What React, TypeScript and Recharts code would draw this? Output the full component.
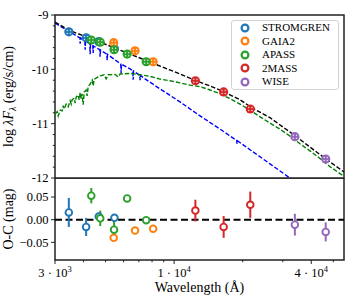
import { ComposedChart, Line, Scatter, XAxis, YAxis, ReferenceArea, ReferenceLine, ErrorBar, Legend } from 'recharts'

const SERIF = '"Liberation Serif", "DejaVu Serif", serif'

// photometry: wavelength (Å), log λFλ, O-C (mag), error (mag)
const stromWl = [3450, 4110, 4670, 5470]
const stromFlux = [-9.31, -9.42, -9.49, -9.62]
const stromOC = [0.016, -0.016, 0.007, 0.004]
const stromErr = [0.032, 0.02, 0.005, 0.005]

const gaiaWl = [5430, 6740, 8090]
const gaiaFlux = [-9.51, -9.66, -9.86]
const gaiaOC = [-0.04, -0.024, -0.02]
const gaiaErr = [0.004, 0.004, 0.004]

const apassWl = [4330, 4740, 5450, 6220, 7540]
const apassFlux = [-9.46, -9.5, -9.64, -9.72, -9.86]
const apassOC = [0.053, 0.003, -0.022, 0.047, -0.001]
const apassErr = [0.017, 0.017, 0.022, 0.004, 0.004]

const tmassWl = [12400, 16500, 21600]
const tmassFlux = [-10.21, -10.415, -10.73]
const tmassOC = [0.02, -0.016, 0.033]
const tmassErr = [0.024, 0.024, 0.029]

const wiseWl = [33900, 46300]
const wiseFlux = [-11.24, -11.65]
const wiseOC = [-0.011, -0.027]
const wiseErr = [0.024, 0.021]

// model spectra
const totalWl = [3000, 3498, 4110, 4734, 5510, 6411, 7460, 8679, 10620, 12480, 14380, 16570, 19470, 21990, 26360, 33930, 39480, 46390, 55700]
const totalFlux = [-9.13, -9.29, -9.4, -9.5, -9.61, -9.72, -9.83, -9.94, -10.085, -10.21, -10.305, -10.415, -10.56, -10.71, -10.89, -11.22, -11.43, -11.65, -11.89]

const coolWl = [3000, 3067, 3099, 3163, 3226, 3259, 3292, 3359, 3428, 3498, 3534, 3569, 3643, 3678, 3716, 3792, 3831, 3869, 3909, 3948, 3988, 4030, 4110, 4152, 4194, 4280, 4369, 4413, 4458, 4549, 4734, 4933, 5033, 5135, 5510, 5681, 5796, 6411, 7092, 7847, 8679, 9602, 10620, 11750, 13010, 14380, 15910, 17600, 19470, 21540, 23830, 26360, 29160, 32260, 35690, 39480, 43670, 48320, 55700]
const coolFlux = [-10.82, -10.78, -10.86, -10.75, -10.765, -10.67, -10.73, -10.64, -10.69, -10.58, -10.64, -10.56, -10.53, -10.62, -10.51, -10.47, -10.56, -10.43, -10.54, -10.45, -10.65, -10.42, -10.38, -10.49, -10.32, -10.27, -10.2, -10.305, -10.18, -10.16, -10.12, -10.1, -10.175, -10.1, -10.094, -10.14, -10.085, -10.075, -10.1, -10.13, -10.18, -10.21, -10.25, -10.29, -10.32, -10.38, -10.45, -10.54, -10.64, -10.75, -10.875, -10.99, -11.1, -11.23, -11.37, -11.5, -11.64, -11.79, -11.97]

const hotWl = [3000, 3498, 3855, 3869, 3883, 4055, 4070, 4085, 4265, 4280, 4295, 4395, 4411, 4427, 4717, 4734, 4751, 5065, 5083, 5101, 5510, 5832, 5853, 5874, 6411, 6585, 6609, 6633, 7066, 7092, 7118, 7460, 8679, 10620, 12610, 15910, 18820, 18890, 18960, 21540, 26360, 32260, 35690]
const hotFlux = [-9.147, -9.313, -9.42, -9.53, -9.425, -9.475, -9.64, -9.48, -9.53, -9.72, -9.535, -9.565, -9.7, -9.57, -9.64, -9.77, -9.645, -9.72, -9.83, -9.725, -9.827, -9.9, -10.07, -9.905, -9.993, -10.025, -10.19, -10.03, -10.11, -10.2, -10.115, -10.176, -10.36, -10.6, -10.82, -11.1, -11.31, -11.37, -11.315, -11.48, -11.74, -12.0, -12.125]

const xMajor = [3000, 10000, 40000]
const xMajorLabels = [['3', '3'], ['1', '4'], ['4', '4']]
const xTicks = [3000, 4000, 5000, 6000, 7000, 8000, 9000, 10000, 20000, 30000, 40000, 50000]
const topYTicks = [-12, -11.8, -11.6, -11.4, -11.2, -11, -10.8, -10.6, -10.4, -10.2, -10, -9.8, -9.6, -9.4, -9.2, -9]
const ocTicks = [-0.05, 0, 0.05]
const ocTickLabels = ['\u22120.05', '0.00', '0.05']

const X_DOMAIN = [3000, 55700]

const zip = (wl: number[], v: number[]) => wl.map((w, i) => ({ wl: w, v: v[i] }))

const surveys = [
  { name: 'STROMGREN', color: '#1f77b4', wl: stromWl, flux: stromFlux, oc: stromOC, err: stromErr },
  { name: 'GAIA2', color: '#ff7f0e', wl: gaiaWl, flux: gaiaFlux, oc: gaiaOC, err: gaiaErr },
  { name: 'APASS', color: '#2ca02c', wl: apassWl, flux: apassFlux, oc: apassOC, err: apassErr },
  { name: '2MASS', color: '#d62728', wl: tmassWl, flux: tmassFlux, oc: tmassOC, err: tmassErr },
  { name: 'WISE', color: '#9467bd', wl: wiseWl, flux: wiseFlux, oc: wiseOC, err: wiseErr },
].map((s) => ({
  ...s,
  top: zip(s.wl, s.flux),
  bottom: s.wl.map((w, i) => ({ wl: w, v: s.oc[i], err: s.err[i] })),
}))

const FluxDot = (props: any) => {
  const { cx, cy, color } = props
  return (
    <g>
      <circle cx={cx} cy={cy} r={4.6} fill={color} />
      <circle cx={cx - 1.6} cy={cy - 1.4} r={0.75} fill="#fff" opacity={0.8} />
      <circle cx={cx + 1.6} cy={cy - 1.4} r={0.75} fill="#fff" opacity={0.8} />
      <circle cx={cx - 1.6} cy={cy + 1.6} r={0.75} fill="#fff" opacity={0.8} />
      <circle cx={cx + 1.6} cy={cy + 1.6} r={0.75} fill="#fff" opacity={0.8} />
    </g>
  )
}

const OCDot = (props: any) => {
  const { cx, cy, color } = props
  return <circle cx={cx} cy={cy} r={3.3} fill="#fff" stroke={color} strokeWidth={1.9} />
}

const TopYTick = (props: any) => {
  const { x, y, payload } = props
  const v = payload.value
  const major = Math.abs(v - Math.round(v)) < 1e-6
  return (
    <g>
      <line x1={x - (major ? 4 : 2.2)} x2={x} y1={y} y2={y} stroke="#222" strokeWidth={1} />
      {major && (
        <text x={x - 6.5} y={y + 4.2} textAnchor="end" fontSize={12.5} fontFamily={SERIF} fill="#000">
          {'-' + Math.abs(Math.round(v))}
        </text>
      )}
    </g>
  )
}

const OCYTick = (props: any) => {
  const { x, y, payload } = props
  const i = ocTicks.findIndex((t) => Math.abs(t - payload.value) < 1e-9)
  return (
    <g>
      <line x1={x - 4} x2={x} y1={y} y2={y} stroke="#222" strokeWidth={1} />
      <text x={x - 6.5} y={y + 4.2} textAnchor="end" fontSize={12.5} fontFamily={SERIF} fill="#000">
        {ocTickLabels[i]}
      </text>
    </g>
  )
}

const XTick = (props: any) => {
  const { x, y, payload } = props
  const i = xMajor.indexOf(payload.value)
  const lab = i >= 0 ? xMajorLabels[i] : null
  return (
    <g>
      <line x1={x} x2={x} y1={y} y2={y + (lab ? 4 : 2.2)} stroke="#222" strokeWidth={1} />
      {lab && (
        <text x={x} y={y + 16.5} textAnchor="middle" fontSize={12.5} fontFamily={SERIF} fill="#000">
          {lab[0] + ' \u00b7 10'}
          <tspan dy={-5} fontSize={8.5}>{lab[1]}</tspan>
        </text>
      )}
    </g>
  )
}

const LegendBox = () => (
  <div
    style={{
      width: 108,
      boxSizing: 'border-box',
      border: '1px solid #d3d3d3',
      borderRadius: 3,
      background: 'rgba(255,255,255,0.85)',
      padding: '0 0 0 8px',
      fontFamily: SERIF,
      fontSize: 11,
      color: '#000',
    }}
  >
    {surveys.map((s) => (
      <div key={s.name} style={{ height: 13.5, display: 'flex', alignItems: 'center' }}>
        <svg width={10} height={10} style={{ flex: 'none' }}>
          <circle cx={5} cy={5} r={3.4} fill="none" stroke={s.color} strokeWidth={2.2} />
        </svg>
        <span style={{ marginLeft: 12, lineHeight: '13.5px' }}>{s.name}</span>
      </div>
    ))}
  </div>
)

const topYLabel = () => (
  <text x={12.5} y={96.5} transform="rotate(-90 12.5 96.5)" textAnchor="middle" fontSize={14} fontFamily={SERIF} fill="#000">
    log <tspan fontStyle="italic">λF</tspan>
    <tspan fontStyle="italic" fontSize={9.5} dy={3}>λ</tspan>
    <tspan dy={-3}> (erg/s/cm)</tspan>
  </text>
)

const ocYLabel = () => (
  <text x={12.5} y={41} transform="rotate(-90 12.5 41)" textAnchor="middle" fontSize={14} fontFamily={SERIF} fill="#000">
    O-C (mag)
  </text>
)

const xLabel = () => (
  <text x={199.5} y={113.5} textAnchor="middle" fontSize={14} fontFamily={SERIF} fill="#000">
    Wavelength (Å)
  </text>
)

export default function App() {
  return (
    <div style={{ position: 'absolute', left: 0, top: 0, width: 347, height: 300, background: '#fff', fontFamily: SERIF }}>
      <div style={{ position: 'absolute', left: 0, top: 0 }}>
        <ComposedChart width={347} height={190} margin={{ top: 15, right: 3, bottom: 12, left: 0 }}>
          <XAxis dataKey="wl" type="number" scale="log" domain={X_DOMAIN} allowDataOverflow hide />
          <YAxis
            type="number"
            domain={[-12, -9]}
            allowDataOverflow
            ticks={topYTicks}
            interval={0}
            width={55}
            axisLine={false}
            tickLine={false}
            tickSize={0}
            tickMargin={0}
            tick={TopYTick}
            label={topYLabel}
          />
          <Line data={zip(hotWl, hotFlux)} dataKey="v" stroke="#0000ff" strokeWidth={1.4} strokeDasharray="4.5 2" dot={false} isAnimationActive={false} />
          <Line data={zip(coolWl, coolFlux)} dataKey="v" stroke="#008000" strokeWidth={1.4} strokeDasharray="4.5 2" dot={false} isAnimationActive={false} />
          <Line data={zip(totalWl, totalFlux)} dataKey="v" stroke="#000" strokeWidth={1.4} strokeDasharray="4.5 2" dot={false} isAnimationActive={false} />
          {surveys.map((s) => (
            <Scatter
              key={s.name}
              data={s.top}
              dataKey="v"
              fill={s.color}
              shape={(p: any) => <FluxDot {...p} color={s.color} />}
              isAnimationActive={false}
            />
          ))}
          <ReferenceArea x1={X_DOMAIN[0]} x2={X_DOMAIN[1]} y1={-12} y2={-9} fill="none" stroke="#222" strokeWidth={1.5} />
          <Legend
            layout="vertical"
            align="center"
            verticalAlign="middle"
            wrapperStyle={{ position: 'absolute', left: 231, top: 20, width: 108 }}
            content={() => <LegendBox />}
          />
        </ComposedChart>
      </div>
      <div style={{ position: 'absolute', left: 0, top: 178 }}>
        <ComposedChart width={347} height={122} margin={{ top: 0, right: 3, bottom: 0, left: 0 }}>
          <XAxis
            dataKey="wl"
            type="number"
            scale="log"
            domain={X_DOMAIN}
            allowDataOverflow
            ticks={xTicks}
            interval={0}
            height={40}
            axisLine={false}
            tickLine={false}
            tickSize={0}
            tickMargin={0}
            tick={XTick}
            label={xLabel}
          />
          <YAxis
            type="number"
            domain={[-0.089, 0.092]}
            allowDataOverflow
            ticks={ocTicks}
            interval={0}
            width={55}
            axisLine={false}
            tickLine={false}
            tickSize={0}
            tickMargin={0}
            tick={OCYTick}
            label={ocYLabel}
          />
          <ReferenceLine y={0} stroke="#000" strokeWidth={2} strokeDasharray="7 3.5" />
          {surveys.map((s) => (
            <Scatter
              key={s.name}
              data={s.bottom}
              dataKey="v"
              fill={s.color}
              shape={(p: any) => <OCDot {...p} color={s.color} />}
              isAnimationActive={false}
            >
              <ErrorBar dataKey="err" direction="y" width={0} stroke={s.color} strokeWidth={2} />
            </Scatter>
          ))}
          <ReferenceArea x1={X_DOMAIN[0]} x2={X_DOMAIN[1]} y1={-0.089} y2={0.092} fill="none" stroke="#222" strokeWidth={1.5} />
        </ComposedChart>
      </div>
    </div>
  )
}
